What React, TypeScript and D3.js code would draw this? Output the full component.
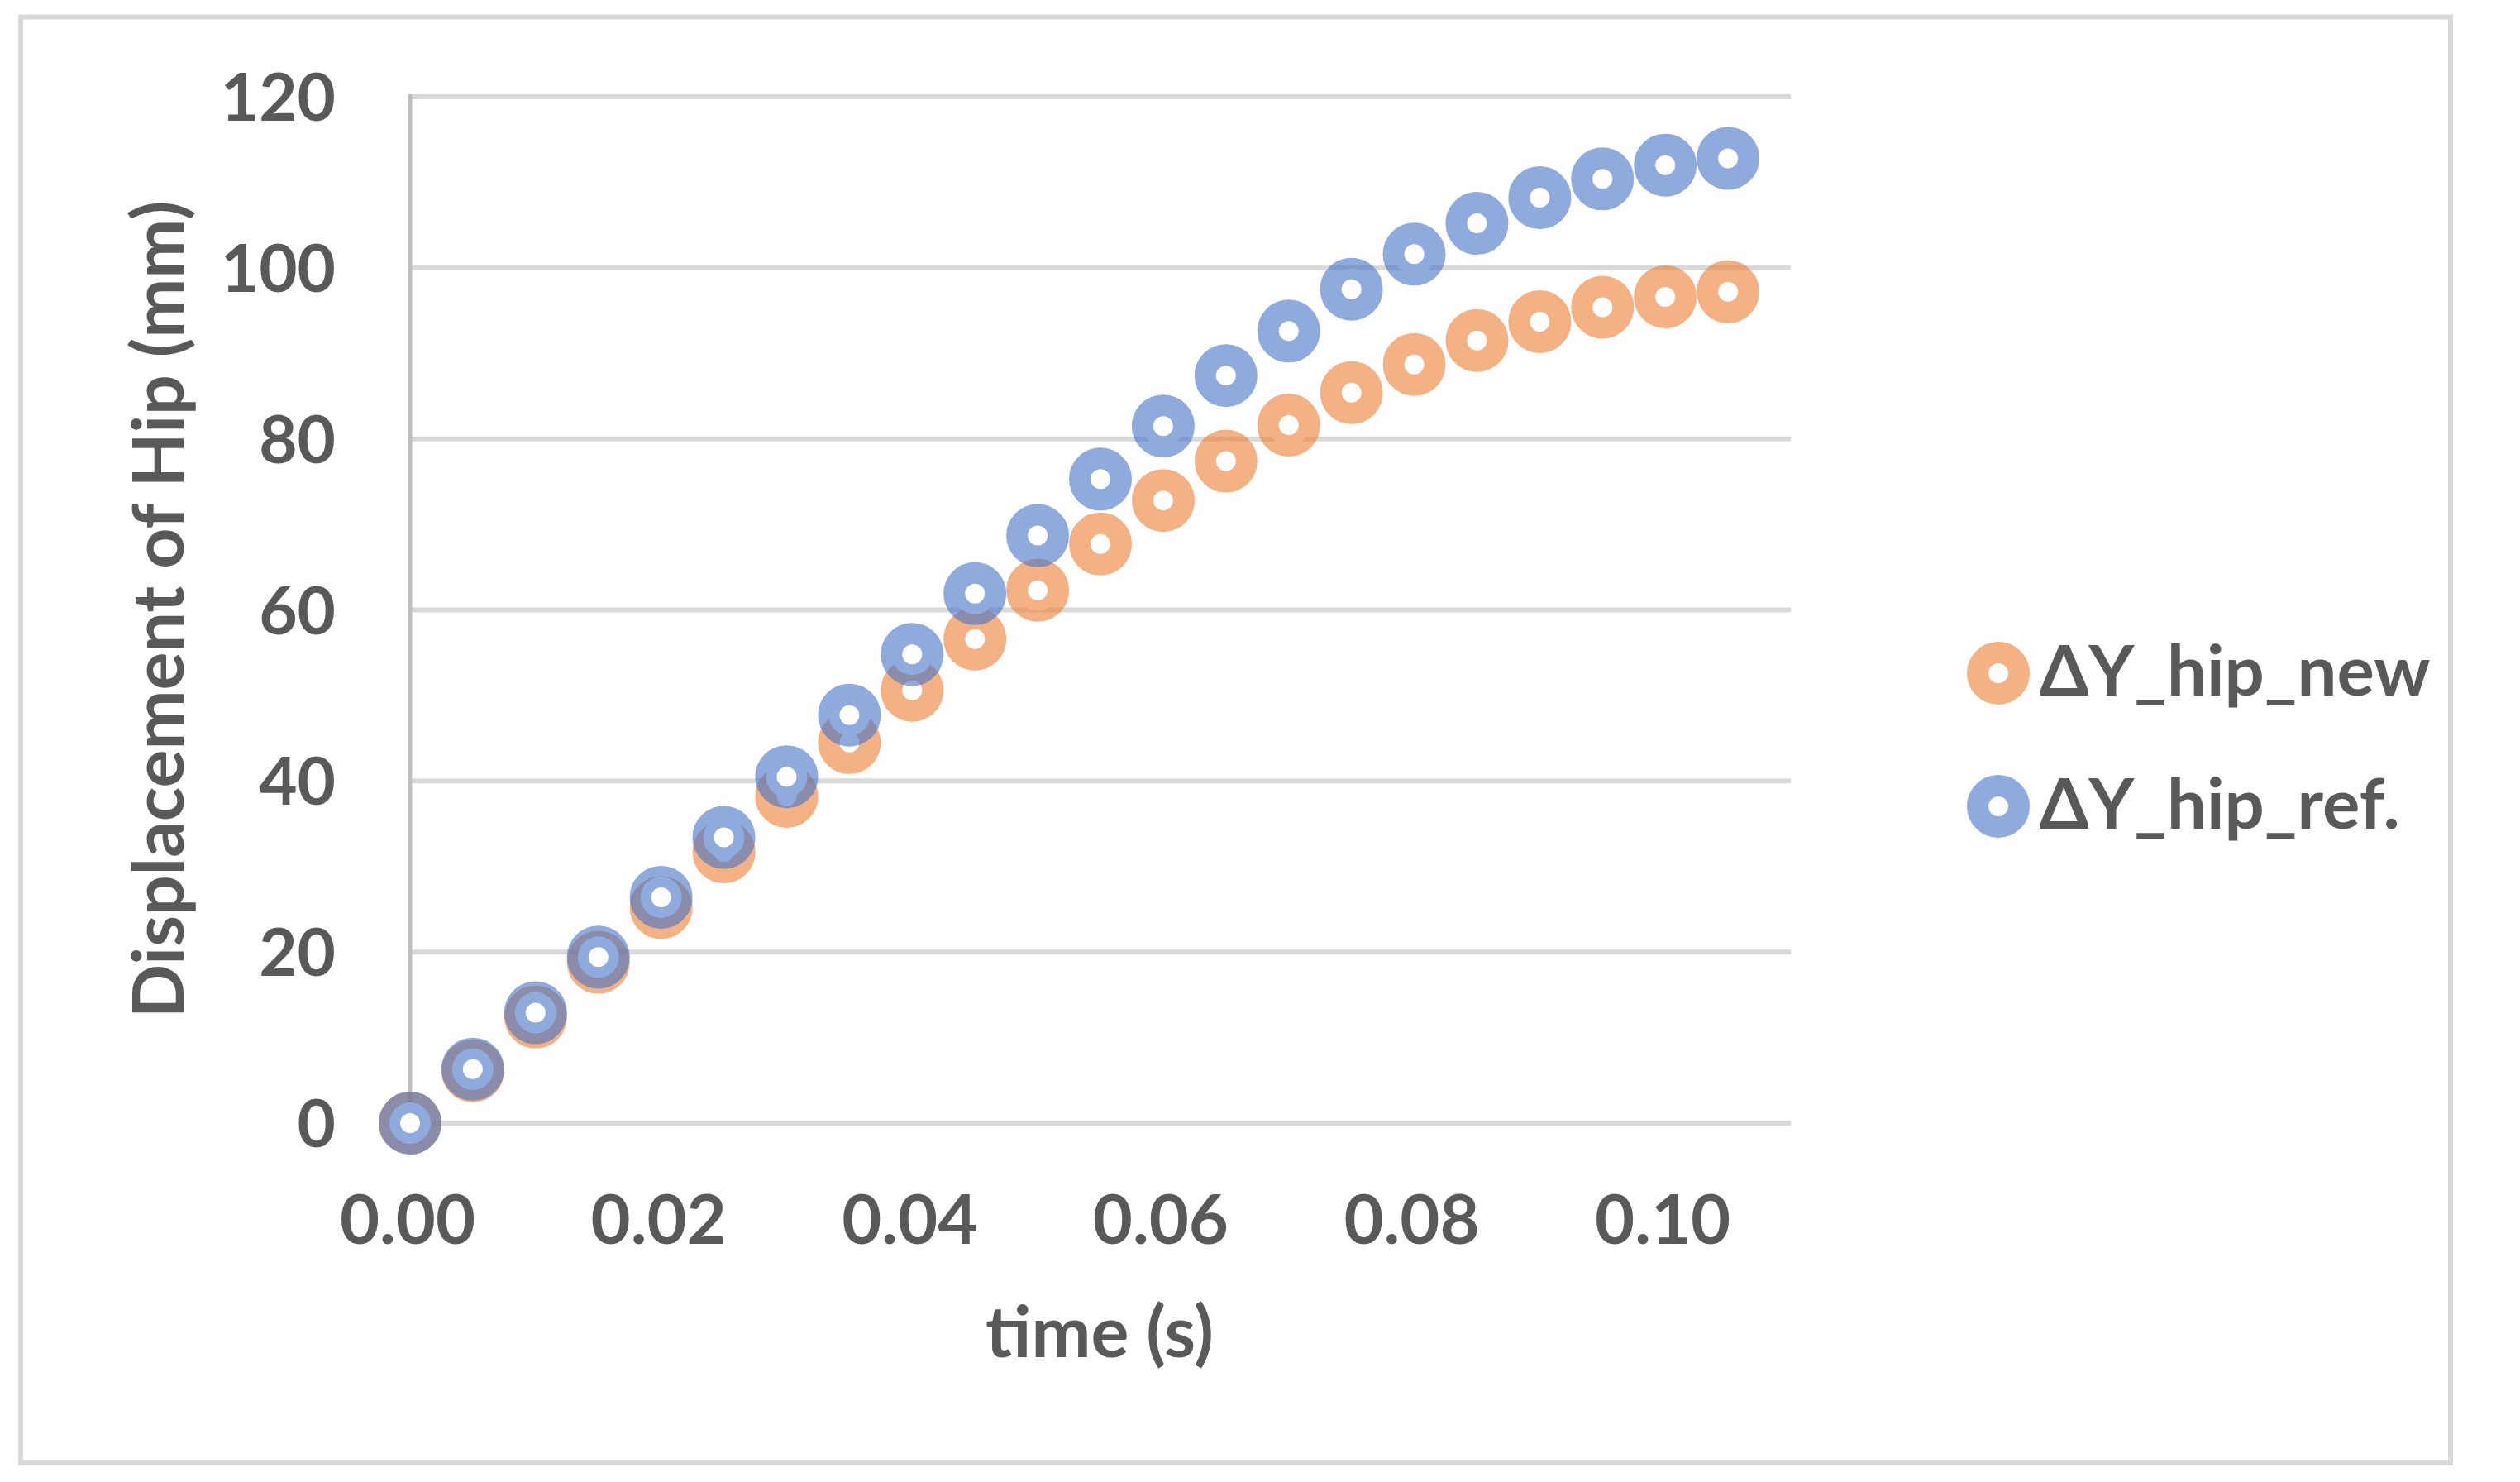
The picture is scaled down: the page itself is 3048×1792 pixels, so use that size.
import React from "react";
import * as d3 from "d3";

const timeValues = [0, 0.005, 0.01, 0.015, 0.02, 0.025, 0.03, 0.035, 0.04, 0.045, 0.05, 0.055, 0.06, 0.065, 0.07, 0.075, 0.08, 0.085, 0.09, 0.095, 0.1, 0.105];
const hipNew = [0, 6.1, 12.4, 18.8, 25.2, 31.7, 38.2, 44.5, 50.6, 56.6, 62.3, 67.7, 72.8, 77.4, 81.6, 85.4, 88.7, 91.5, 93.7, 95.4, 96.6, 97.2];
const hipRef = [0, 6.3, 12.9, 19.4, 26.4, 33.4, 40.5, 47.7, 54.8, 61.9, 68.7, 75.3, 81.5, 87.4, 92.6, 97.5, 101.6, 105.2, 108.2, 110.4, 112.0, 112.8];
const xTicks = [0, 0.02, 0.04, 0.06, 0.08, 0.1];
const yTicks = [0, 20, 40, 60, 80, 100, 120];
const seriesNames = ["ΔY_hip_new", "ΔY_hip_ref."];
const seriesColors = ["rgba(237,125,49,0.6)", "rgba(68,114,196,0.6)"];
const xTitle = "time (s)";
const yTitle = "Displacement of Hip (mm)";

const W = 3048;
const H = 1792;
const FONT = "Lato, 'Open Sans', 'DejaVu Sans', sans-serif";
const TEXT = "#595959";

export default function App() {
  const x = d3.scaleLinear().domain([0, 0.11]).range([496, 2166]);
  const y = d3.scaleLinear().domain([0, 120]).range([1358, 117]);
  const fmt = d3.format(".2f");
  const series = [hipNew, hipRef];
  const R = 25;
  const SW = 26;

  return (
    <div style={{ position: "fixed", left: 0, top: 0 }}>
      <svg width={W} height={H} style={{ display: "block", background: "#fff" }}>
        <rect x={0} y={0} width={W} height={H} fill="#fff" />
        <rect x={25} y={20.5} width={2939} height={1748.5} fill="#fff" stroke="#d9d9d9" strokeWidth={6} />
        {yTicks.map((t) => (
          <line key={"g" + t} x1={x(0)} x2={x(0.11)} y1={y(t)} y2={y(t)} stroke="#d9d9d9" strokeWidth={6} />
        ))}
        <line x1={x(0)} x2={x(0)} y1={y(120) - 3} y2={y(0)} stroke="#bfbfbf" strokeWidth={5} />
        {yTicks.map((t) => (
          <text key={"yl" + t} x={406} y={y(t) + 29} textAnchor="end" fontFamily={FONT} fontWeight={700} fontSize={80} fill={TEXT}>
            {t}
          </text>
        ))}
        {xTicks.map((t) => (
          <text key={"xl" + t} x={x(t) - 3} y={1504} textAnchor="middle" fontFamily={FONT} fontWeight={700} fontSize={83} fill={TEXT}>
            {fmt(t)}
          </text>
        ))}
        <text x={1330} y={1641} textAnchor="middle" fontFamily={FONT} fontWeight={700} fontSize={86} fill={TEXT}>
          {xTitle}
        </text>
        <text transform={`translate(222,737) rotate(-90)`} textAnchor="middle" fontFamily={FONT} fontWeight={700} fontSize={86} fill={TEXT}>
          {yTitle}
        </text>
        {series.map((vals, si) => (
          <g key={"s" + si}>
            {vals.map((v, i) => (
              <circle key={i} cx={x(timeValues[i])} cy={y(v)} r={R} fill="#fff" stroke={seriesColors[si]} strokeWidth={SW} />
            ))}
          </g>
        ))}
        {seriesNames.map((name, si) => (
          <g key={"lg" + si} transform={`translate(0,${814 + si * 161})`}>
            <circle cx={2417} cy={0} r={R} fill="#fff" stroke={seriesColors[si]} strokeWidth={SW} />
            <text x={2467} y={27} fontFamily={FONT} fontWeight={700} fontSize={85} fill={TEXT}>
              {name}
            </text>
          </g>
        ))}
      </svg>
    </div>
  );
}
